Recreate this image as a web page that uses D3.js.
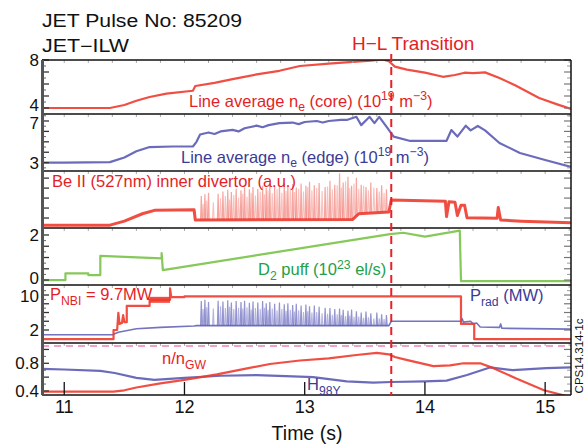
<!DOCTYPE html>
<html><head><meta charset="utf-8">
<script src="https://cdn.jsdelivr.net/npm/d3@7"></script>
<style>html,body{margin:0;padding:0;background:#fff;}svg{display:block;}</style>
</head><body>
<script>
// ---------------- DATA ----------------
const timeDomain = [10.815, 15.215];
const xTickValues = [11, 12, 13, 14, 15];
const hlTime = 13.72;

const neCoreT = [10.815,11.0,11.38,11.5,11.6,11.71,11.85,12.07,12.09,12.25,12.4,12.6,12.79,12.96,13.2,13.4,13.55,13.65,13.7,13.75,13.85,14.0,14.15,14.25,14.33,14.4,14.5,14.62,14.75,14.95,15.1,15.215];
const neCoreV = [4.0,4.0,4.0,4.25,4.6,4.92,5.2,5.44,5.83,6.1,6.4,6.8,7.1,7.5,7.7,7.85,7.95,8.05,7.9,7.45,7.2,6.95,6.6,6.75,6.94,6.9,6.97,6.5,5.9,4.83,4.3,3.92];

const neEdgeT = [10.815,11.0,11.38,11.5,11.6,11.71,11.9,12.07,12.1,12.13,12.2,12.25,12.3,12.4,12.45,12.5,12.6,12.65,12.7,12.79,12.9,12.95,13.0,13.1,13.15,13.2,13.3,13.35,13.43,13.47,13.54,13.58,13.62,13.68,13.74,13.87,14.18,14.22,14.27,14.34,14.38,14.44,14.5,14.62,14.79,15.0,15.215];
const neEdgeV = [3.0,3.0,3.05,3.5,4.1,4.5,4.55,4.55,5.0,5.7,5.9,5.75,6.0,6.15,6.0,6.3,6.55,6.4,6.6,6.8,6.85,6.7,6.9,7.0,6.85,7.0,7.1,7.1,7.4,6.6,7.4,6.8,7.4,6.45,5.5,5.1,5.1,6.13,5.5,6.55,6.1,6.52,6.1,4.89,3.93,3.26,2.6];

const beT = [10.815,11.38,11.5,11.65,11.75,12.08,12.09,13.4,13.45,13.7,13.72,14.17,14.18,14.2,14.25,14.27,14.3,14.33,14.35,14.6,14.61,14.63,14.8,15.215];
const beV = [0.5,0.5,1.2,2.5,3.1,3.2,1.4,1.5,2.5,2.8,4.9,4.7,2.0,4.6,4.5,2.2,4.0,4.0,1.8,1.7,3.6,1.4,1.2,0.9];

const elmT = [12.14,12.17,12.2,12.28,12.32,12.36,12.39,12.43,12.47,12.5,12.54,12.57,12.61,12.65,12.68,12.71,12.75,12.79,12.83,12.86,12.9,12.93,12.97,13.01,13.04,13.08,13.12,13.17,13.21,13.25,13.29,13.32,13.36,13.39,13.43,13.47,13.51,13.55,13.6,13.64,13.68];
const elmBe = [5.6,5.9,6.2,6.0,6.4,6.7,6.3,6.9,6.6,7.1,6.8,7.2,6.9,7.4,7.0,7.6,7.2,7.5,7.9,7.3,7.7,7.1,7.8,7.4,8.1,7.5,7.9,7.2,8.3,7.6,9.6,8.0,9.0,7.4,8.8,7.6,7.2,8.0,7.0,7.5,6.8];
const elmPrad = [8.6,8.9,8.4,8.7,8.5,8.8,8.3,8.6,8.4,8.7,8.2,8.5,8.3,8.6,8.1,8.4,8.0,8.3,7.9,8.1,7.7,8.0,7.6,7.8,7.4,7.6,7.3,7.1,7.0,6.8,6.9,6.6,6.4,6.7,6.3,6.0,6.2,5.8,6.0,5.6,5.4];
const elmT2 = [12.155,12.185,12.24,12.30,12.34,12.375,12.41,12.45,12.485,12.52,12.555,12.59,12.63,12.665,12.695,12.73,12.77,12.81,12.845,12.88,12.915,12.95,12.99,13.025,13.06,13.10,13.145,13.19,13.23,13.27,13.305,13.34,13.375,13.41,13.45,13.49,13.53,13.575,13.62,13.66];
const elmBe2 = [4.2,4.8,4.5,5.2,5.6,5.0,5.8,5.3,6.0,5.5,6.2,5.7,6.4,5.9,6.6,6.1,6.8,6.2,6.5,7.0,6.3,6.9,6.4,7.2,6.6,7.0,6.5,7.3,6.8,7.5,7.1,8.2,7.0,7.8,6.9,7.4,6.6,7.1,6.4,6.2];
const elmPrad2 = [6.8,7.2,6.9,7.4,7.0,7.3,6.8,7.1,6.9,7.2,6.7,7.0,6.8,7.1,6.6,6.9,6.5,6.8,6.4,6.6,6.2,6.5,6.1,6.3,6.0,6.1,5.8,5.7,5.5,5.6,5.4,5.2,5.3,5.0,5.1,4.8,4.9,4.6,4.7,4.5];

const d2T = [10.815,11.01,11.01,11.2,11.2,11.3,11.3,11.81,11.81,11.82,13.71,13.82,14.0,14.29,14.3,15.215];
const d2V = [0,0,0.3,0.3,0.22,0.22,1.07,0.96,1.2,0.44,2.04,2.1,1.93,2.19,-0.05,-0.05];

const nbiT = [10.815,11.41,11.41,11.44,11.45,11.46,11.48,11.49,11.5,11.52,11.52,11.71,11.71,11.88,11.88,11.89,12.0,12.0,14.3,14.3,14.41,14.41,15.215];
const nbiV = [-0.1,-0.1,2.0,2.0,5.9,3.4,3.6,5.4,3.8,3.8,7.5,7.5,8.9,8.9,11.5,9.5,9.5,9.7,9.7,3.4,3.4,-0.1,-0.1];
const nbiBandT = [11.71,11.88];
const nbiBandV = [8.9,8.9];

const pradT = [10.815,11.4,11.45,11.6,11.8,12.08,12.1,13.7,13.72,14.3,14.31,14.32,14.38,14.4,14.43,14.46,14.62,14.63,14.64,15.215];
const pradV = [0.9,0.9,1.5,2.3,2.6,2.9,3.0,3.0,4.0,4.0,4.6,3.8,4.0,3.4,3.6,2.7,2.6,3.4,2.4,2.2];

const ngwT = [10.815,11.41,11.5,11.6,11.8,12.0,12.27,12.5,12.71,12.96,13.2,13.43,13.6,13.7,13.75,13.82,14.07,14.21,14.32,14.46,14.57,14.76,14.99,15.215];
const ngwV = [0.39,0.39,0.41,0.45,0.51,0.56,0.64,0.72,0.79,0.84,0.87,0.92,0.95,0.93,0.89,0.86,0.76,0.77,0.8,0.8,0.73,0.58,0.41,0.31];
const gwLimit = 1.05;

const h98T = [10.815,11.0,11.3,11.42,11.6,11.75,12.0,12.3,12.6,12.9,13.07,13.35,13.57,13.72,14.0,14.18,14.35,14.54,14.73,15.01,15.215];
const h98V = [0.72,0.71,0.69,0.66,0.59,0.56,0.59,0.62,0.63,0.61,0.6,0.54,0.52,0.53,0.54,0.55,0.63,0.74,0.70,0.73,0.74];

// ---------------- LAYOUT ----------------
const W = 584, H = 446;
const L = 42, R = 571;
const FONT = "'Liberation Sans', Arial, Helvetica, sans-serif";
const RED = "#ee3b2e", RED_T = "#e41e26";
const BLUE = "#5b5bb4", BLUE_T = "#3b3b96";
const GREEN = "#86c95a", GREEN_T = "#22a04a";

const svg = d3.select("body").append("svg").attr("width", W).attr("height", H)
  .style("font-family", FONT);

const x = d3.scaleLinear().domain(timeDomain).range([L, R]);

const panels = [
  {top:60,  bot:114, dom:[3.5,8],     labels:[4,8],     ticks:[4,5,6,7,8], minor:[4.5,5.5,6.5,7.5]},
  {top:114, bot:171, dom:[2.2,7.67],  labels:[3,7],     ticks:[3,4,5,6,7], minor:[2.5,3.5,4.5,5.5,6.5,7.5]},
  {top:171, bot:228, dom:[0,10],      labels:[],        ticks:[1.75,3.5,5.25,7,8.75], minor:[]},
  {top:228, bot:285, dom:[-0.22,2.31],labels:[0,2],     ticks:[0,0.5,1,1.5,2], minor:[0.25,0.75,1.25,1.75]},
  {top:285, bot:343, dom:[-0.97,12.29],labels:[2,10],   ticks:[2,4,6,8,10], minor:[3,5,7,9,11]},
  {top:343, bot:395, dom:[0.342,1.093],labels:[0.4,0.8],ticks:[0.4,0.6,0.8,1.0], minor:[0.5,0.7,0.9]}
];
// small vertical nudges so adjacent panel labels do not collide
const labelNudge = {"0-4":-2.5,"1-7":2.5,"3-0":-1.5,"4-10":1.5};
panels.forEach(p => { p.y = d3.scaleLinear().domain(p.dom).range([p.bot, p.top]); });

const defs = svg.append("defs");
panels.forEach((p,i) => {
  defs.append("clipPath").attr("id","clip"+i).append("rect")
    .attr("x", L).attr("y", p.top).attr("width", R-L).attr("height", p.bot-p.top);
});

function zip(T, V){ return T.map((t,i)=>[t,V[i]]); }
function drawLine(i, T, V, color, width, opacity){
  const p = panels[i];
  const line = d3.line().x(d=>x(d[0])).y(d=>p.y(d[1]));
  svg.append("g").attr("clip-path","url(#clip"+i+")").append("path")
    .attr("d", line(zip(T,V))).attr("fill","none").attr("stroke",color)
    .attr("stroke-width",width).attr("stroke-opacity",opacity==null?1:opacity)
    .attr("stroke-linejoin","round");
}
function drawSpikes(i, T, Hs, base, color, width, opacity, half){
  const p = panels[i];
  const g = svg.append("g").attr("clip-path","url(#clip"+i+")");
  T.forEach((t,k)=>{
    g.append("path")
      .attr("d", d3.line()([[x(t-half),p.y(base(t))],[x(t),p.y(Hs[k])],[x(t+half),p.y(base(t))]]))
      .attr("fill","none").attr("stroke",color).attr("stroke-width",width).attr("stroke-opacity",opacity);
  });
}
const interp = (T,V) => t => { for(let k=1;k<T.length;k++){ if(t<=T[k]){ const f=(t-T[k-1])/((T[k]-T[k-1])||1); return V[k-1]+f*(V[k]-V[k-1]); } } return V[V.length-1]; };

// --------- panel 1 & 2
drawLine(0, neCoreT, neCoreV, RED, 2.2, 0.9);
drawLine(1, neEdgeT, neEdgeV, BLUE, 2.2, 0.9);
// --------- panel 3 Be II
drawSpikes(2, elmT2, elmBe2, interp(beT,beV), "#f3867e", 1.1, 0.5, 0.007);
drawSpikes(2, elmT, elmBe, interp(beT,beV), "#f06a60", 1.2, 0.6, 0.006);
drawLine(2, beT, beV, RED, 3, 0.9);
// --------- panel 4 D2
drawLine(3, d2T, d2V, GREEN, 2.2, 1);
// --------- panel 5 NBI & Prad
drawSpikes(4, elmT2, elmPrad2, interp(pradT,pradV), "#8484cc", 1.1, 0.6, 0.006);
drawSpikes(4, elmT, elmPrad, interp(pradT,pradV), "#7070c0", 1.2, 0.75, 0.006);
drawLine(4, pradT, pradV, BLUE, 1.6, 0.85);
drawLine(4, nbiT, nbiV, RED, 2.2, 0.9);
drawLine(4, nbiBandT, nbiBandV, RED, 6, 0.9);
// --------- panel 6
svg.append("line").attr("x1",L).attr("x2",R)
  .attr("y1",panels[5].y(gwLimit)).attr("y2",panels[5].y(gwLimit))
  .attr("stroke","#efa3c6").attr("stroke-width",2).attr("stroke-dasharray","7,5");
drawLine(5, h98T, h98V, BLUE, 2.2, 0.9);
drawLine(5, ngwT, ngwV, RED, 2.2, 0.9);

// --------- axes / frames
const frame = svg.append("g");
panels.forEach((p,i) => {
  p.ticks.forEach(v => {
    frame.append("line").attr("x1",L).attr("x2",L+7).attr("y1",p.y(v)).attr("y2",p.y(v))
      .attr("stroke","#333").attr("stroke-width",1.3);
    frame.append("line").attr("x1",R).attr("x2",R-7).attr("y1",p.y(v)).attr("y2",p.y(v))
      .attr("stroke","#777").attr("stroke-width",1.2);
  });
  p.minor.forEach(v => {
    if (v < p.dom[0] || v > p.dom[1]) return;
    frame.append("line").attr("x1",L).attr("x2",L+4).attr("y1",p.y(v)).attr("y2",p.y(v))
      .attr("stroke","#666").attr("stroke-width",1);
    frame.append("line").attr("x1",R).attr("x2",R-4).attr("y1",p.y(v)).attr("y2",p.y(v))
      .attr("stroke","#999").attr("stroke-width",1);
  });
  d3.range(11, 15.21, 0.2).forEach(t => {
    frame.append("line").attr("x1",x(t)).attr("x2",x(t)).attr("y1",p.top).attr("y2",p.top+3)
      .attr("stroke","#aaa").attr("stroke-width",1);
  });
  p.labels.forEach(v => {
    const n = labelNudge[i+"-"+v] || 0;
    frame.append("text").attr("x",39).attr("y",p.y(v)+n).attr("dy","0.35em")
      .attr("text-anchor","end").attr("font-size",17).attr("fill","#111").text(v);
  });
  frame.append("line").attr("x1",L).attr("x2",R).attr("y1",p.top).attr("y2",p.top)
    .attr("stroke","#111").attr("stroke-width",1.5);
});
frame.append("line").attr("x1",L).attr("x2",R).attr("y1",395).attr("y2",395)
  .attr("stroke","#111").attr("stroke-width",1.5);
frame.append("rect").attr("x",L-1).attr("y",60).attr("width",3).attr("height",335).attr("fill","#555");
frame.append("line").attr("x1",R).attr("x2",R).attr("y1",60).attr("y2",395)
  .attr("stroke","#111").attr("stroke-width",1.5);

// --------- text labels (series)
function rich(x0, y0, parts, size, color){
  const t = svg.append("text").attr("x",x0).attr("y",y0).attr("font-size",size).attr("fill",color);
  let shift = 0;
  parts.forEach(p => {
    const target = p.s==="sub" ? size*0.3 : p.s==="sup" ? -size*0.38 : 0;
    const ts = t.append("tspan").attr("dy", target-shift).text(p.t);
    if (p.s) ts.attr("font-size", size*0.74);
    shift = target;
  });
  return t;
}
// white box left of H98Y
svg.append("rect").attr("x",293).attr("y",379).attr("width",12).attr("height",15).attr("fill","#fff");

// bottom time ticks
xTickValues.forEach(v => {
  svg.append("line").attr("x1",x(v)).attr("x2",x(v)).attr("y1",395).attr("y2",382)
    .attr("stroke","#111").attr("stroke-width",1.3);
  svg.append("text").attr("x",x(v)).attr("y",413).attr("text-anchor","middle")
    .attr("font-size",18).attr("fill","#111").text(v);
});
svg.append("text").attr("x",307).attr("y",440).attr("text-anchor","middle")
  .attr("font-size",19.5).attr("fill","#111").text("Time (s)");

rich(189, 106.5, [{t:"Line average n"},{t:"e",s:"sub"},{t:" (core) (10"},{t:"19",s:"sup"},{t:" m"},{t:"−3",s:"sup"},{t:")"}], 16.5, RED_T);
rich(181, 162.5, [{t:"Line average n"},{t:"e",s:"sub"},{t:" (edge) (10"},{t:"19",s:"sup"},{t:" m"},{t:"−3",s:"sup"},{t:")"}], 16.5, BLUE_T);
rich(52, 187, [{t:"Be II (527nm) inner divertor (a.u.)"}], 16.5, RED_T);
rich(258, 275, [{t:"D"},{t:"2",s:"sub"},{t:" puff (10"},{t:"23",s:"sup"},{t:" el/s)"}], 16.5, GREEN_T);
rich(50, 300, [{t:"P"},{t:"NBI",s:"sub"},{t:" = 9.7MW"}], 16.5, RED_T);
rich(470, 301, [{t:"P"},{t:"rad",s:"sub"},{t:" (MW)"}], 16.5, BLUE_T);
rich(162, 364, [{t:"n/n"},{t:"GW",s:"sub"}], 16.5, RED_T);
rich(307, 390, [{t:"H"},{t:"98Y",s:"sub"}], 16.5, BLUE_T);

// H-L transition
svg.append("line").attr("x1",x(hlTime)).attr("x2",x(hlTime)).attr("y1",54).attr("y2",395)
  .attr("stroke","#e8202a").attr("stroke-width",2).attr("stroke-dasharray","8,5");
svg.append("text").attr("x",352).attr("y",50).attr("font-size",19).attr("fill","#e41e26").text("H−L Transition");

// titles
svg.append("text").attr("x",42).attr("y",27).attr("font-size",17.5).attr("fill","#111")
  .attr("textLength",200).attr("lengthAdjust","spacingAndGlyphs").text("JET Pulse No: 85209");
svg.append("text").attr("x",42).attr("y",52).attr("font-size",17.5).attr("fill","#111")
  .attr("textLength",87).attr("lengthAdjust","spacingAndGlyphs").text("JET−ILW");

// figure ID
svg.append("text").attr("transform","translate(583,356) rotate(-90)").attr("text-anchor","middle")
  .attr("font-size",11.5).attr("fill","#111").text("CPS14.314-1c");
</script>
</body></html>
